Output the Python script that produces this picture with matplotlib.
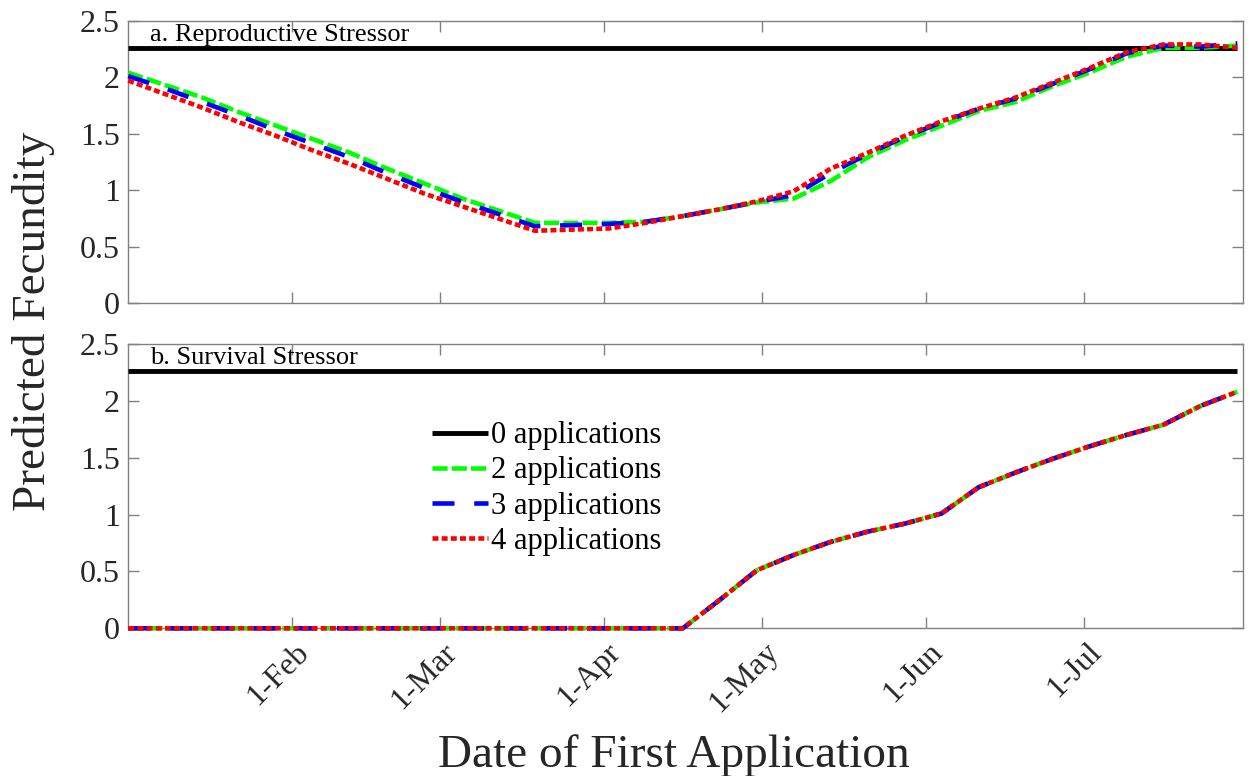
"""
Predicted fecundity vs. date of first application (two stressor panels)
"""
import datetime as dt
import matplotlib
matplotlib.use('Agg')
import matplotlib.pyplot as plt
import matplotlib.transforms as mtrans

plt.rcParams['font.family'] = 'serif'
plt.rcParams['font.serif'] = ['Liberation Serif', 'DejaVu Serif']

# weekly dates of first application (Jan 1 .. Jul 30)
dates = [dt.date(2019, 1, 1) + dt.timedelta(days=7 * i) for i in range(31)]

# a. reproductive stressor
repro_0 = [2.26, 2.26, 2.26, 2.26, 2.26, 2.26, 2.26, 2.26, 2.26, 2.26, 2.26,
           2.26, 2.26, 2.26, 2.26, 2.26, 2.26, 2.26, 2.26, 2.26, 2.26, 2.26,
           2.26, 2.26, 2.26, 2.26, 2.26, 2.26, 2.26, 2.26, 2.26]
repro_2 = [2.04, 1.93, 1.82, 1.69, 1.57, 1.45, 1.33, 1.19, 1.06, 0.93, 0.82,
           0.71, 0.71, 0.71, 0.72, 0.77, 0.83, 0.89, 0.925, 1.08, 1.29, 1.44,
           1.57, 1.70, 1.78, 1.92, 2.04, 2.18, 2.26, 2.26, 2.28]
repro_3 = [2.01, 1.90, 1.78, 1.66, 1.53, 1.41, 1.29, 1.15, 1.02, 0.90, 0.79,
           0.68, 0.69, 0.70, 0.72, 0.77, 0.83, 0.895, 0.955, 1.15, 1.32, 1.47,
           1.60, 1.72, 1.81, 1.94, 2.07, 2.21, 2.28, 2.27, 2.30]
repro_4 = [1.97, 1.85, 1.73, 1.60, 1.48, 1.35, 1.23, 1.10, 0.97, 0.86, 0.75,
           0.64, 0.65, 0.66, 0.71, 0.77, 0.83, 0.90, 0.99, 1.19, 1.33, 1.48,
           1.61, 1.72, 1.82, 1.95, 2.08, 2.22, 2.29, 2.29, 2.26]

# b. survival stressor
surv_0 = [2.26, 2.26, 2.26, 2.26, 2.26, 2.26, 2.26, 2.26, 2.26, 2.26, 2.26,
          2.26, 2.26, 2.26, 2.26, 2.26, 2.26, 2.26, 2.26, 2.26, 2.26, 2.26,
          2.26, 2.26, 2.26, 2.26, 2.26, 2.26, 2.26, 2.26, 2.26]
surv_2 = [0, 0, 0, 0, 0, 0, 0, 0, 0, 0, 0, 0, 0, 0, 0, 0,
          0.25, 0.51, 0.645, 0.76, 0.85, 0.92, 1.01, 1.24, 1.37, 1.49,
          1.60, 1.70, 1.79, 1.955, 2.08]
surv_3 = [0, 0, 0, 0, 0, 0, 0, 0, 0, 0, 0, 0, 0, 0, 0, 0,
          0.25, 0.51, 0.645, 0.76, 0.85, 0.92, 1.01, 1.24, 1.37, 1.49,
          1.60, 1.70, 1.79, 1.955, 2.08]
surv_4 = [0, 0, 0, 0, 0, 0, 0, 0, 0, 0, 0, 0, 0, 0, 0, 0,
          0.25, 0.51, 0.645, 0.76, 0.85, 0.92, 1.01, 1.24, 1.37, 1.49,
          1.60, 1.70, 1.79, 1.955, 2.08]

tick_dates = [dt.date(2019, m, 1) for m in range(2, 8)]
tick_labels = ['1-Feb', '1-Mar', '1-Apr', '1-May', '1-Jun', '1-Jul']
ytick_vals = [0, 0.5, 1, 1.5, 2, 2.5]
ytick_labels = ['0', '0.5', '1', '1.5', '2', '2.5']
legend_labels = ['0 applications', '2 applications', '3 applications', '4 applications']

GREY = '#808080'
TXT = '#262626'

fig = plt.figure(figsize=(12.5, 7.76), dpi=100)
ax1 = fig.add_axes([0.1026, 0.6095, 0.8915, 0.3638])
ax2 = fig.add_axes([0.1026, 0.1903, 0.8915, 0.3664])

panels = [(ax1, repro_0, repro_2, repro_3, repro_4, 'a. Reproductive Stressor'),
          (ax2, surv_0, surv_2, surv_3, surv_4, 'b. Survival Stressor')]

for ax, s0, s2, s3, s4, title in panels:
    # lines drawn over the frame and not clipped (zero line keeps full width)
    l0, = ax.plot(dates, s0, color='black', lw=3.5, solid_capstyle='butt',
                  clip_on=False, zorder=3)
    l2, = ax.plot(dates, s2, color='#00ff00', lw=3.3, dashes=(3.3, 0.9),
                  clip_on=False, zorder=3)
    l3, = ax.plot(dates, s3, color='#0000ff', lw=3.3, dashes=(4.8, 4.3),
                  clip_on=False, zorder=3)
    l4, = ax.plot(dates, s4, color='#ff0000', lw=3.3, dashes=(1.3, 0.7),
                  clip_on=False, zorder=3)

    ax.set_xlim(dt.date(2019, 1, 1), dt.date(2019, 7, 31))
    ax.set_ylim(0, 2.5)
    ax.set_yticks(ytick_vals)
    ax.set_yticklabels(ytick_labels)
    ax.set_xticks(tick_dates)

    ax.tick_params(direction='in', length=8, width=1, colors=GREY,
                   labelcolor=TXT, labelsize=23, top=True, right=True, pad=6)
    for sp in ax.spines.values():
        sp.set_color(GREY)
        sp.set_linewidth(1)

    ax.text(0.0195, 0.928, title, transform=ax.transAxes, fontsize=19,
            color='black', ha='left', va='baseline')

ax1.set_xticklabels([])
ax2.set_xticklabels(tick_labels, rotation=45, ha='right', va='center',
                    rotation_mode='anchor')
# nudge the rotated date labels a little right and down
shift = mtrans.ScaledTranslation(9 / 72, -8 / 72, fig.dpi_scale_trans)
for lab in ax2.get_xticklabels():
    lab.set_transform(lab.get_transform() + shift)

# legend sits in the lower panel
ax2.legend([l0, l2, l3, l4], legend_labels, loc='upper left',
           bbox_to_anchor=(0.2723, 0.728), frameon=False, fontsize=22,
           handlelength=1.85, handletextpad=0.1, labelspacing=0.2,
           borderpad=0, borderaxespad=0)

fig.text(673.5 / 1250, 1 - 766.7 / 776, 'Date of First Application',
         fontsize=34, color=TXT, ha='center', va='baseline')
fig.text(0.027, 1 - 321 / 776, 'Predicted Fecundity', fontsize=34,
         color=TXT, rotation=90, ha='center', va='center')

plt.savefig('out.png', dpi=100)
